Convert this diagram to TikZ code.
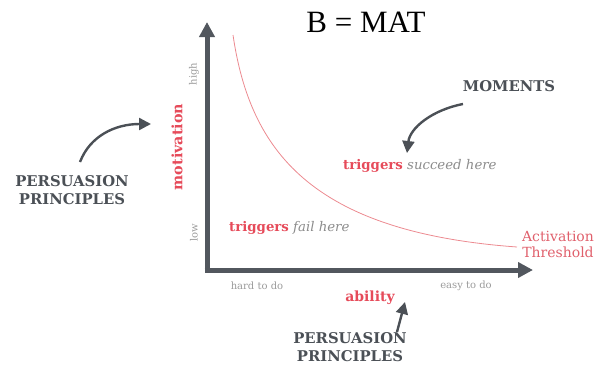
\documentclass[tikz,border=0pt]{standalone}
\usepackage{fontspec}
\setmainfont{DejaVu Serif}
\newfontfamily\titlefont{Liberation Serif}
\usetikzlibrary{arrows.meta}
\definecolor{axisgray}{HTML}{52575E}
\definecolor{darkgray}{HTML}{4B5056}
\definecolor{pinkred}{HTML}{E64B5A}
\definecolor{threshred}{HTML}{E0606C}
\definecolor{curvered}{HTML}{EC8A90}
\definecolor{lightgray}{HTML}{9A9A9A}
\definecolor{midgray}{HTML}{8C8C8C}
\tikzset{
  axisline/.style={draw=axisgray, line width=5pt, -{Triangle[length=15pt,width=15pt]}},
  pointer/.style={draw=darkgray, line width=2.4pt, -{Triangle[length=12pt,width=12pt]}},
  bigcap/.style={text=darkgray, font=\fontsize{14.8}{18}\selectfont\bfseries, align=center, inner sep=0pt},
  ticklabel/.style={text=lightgray, font=\fontsize{10}{12}\selectfont, inner sep=0pt},
  axislabel/.style={text=pinkred, font=\fontsize{14}{16}\selectfont\bfseries, inner sep=0pt},
  zonelabel/.style={font=\fontsize{13.3}{15}\selectfont, inner sep=0pt, anchor=west},
}
\begin{document}
\begin{tikzpicture}[x=1pt,y=-1pt]
\useasboundingbox (0,0) rectangle (605,368);
% axes
\coordinate (corner) at (207,270);
\coordinate (ytop) at (207,22);
\coordinate (xend) at (533,270);
\draw[axisline] (207,272.5) -- (ytop);
\draw[axisline] (204.5,270) -- (xend);
% threshold curve
\coordinate (cstart) at (233,35);
\coordinate (cend) at (517,247);
\draw[curvered, line width=0.8pt] (cstart) .. controls (250,150) and (310,232) .. (cend);
% title
\node (title) at (366,22) {\titlefont\fontsize{31}{34}\selectfont B = MAT};
% axis labels
\node[axislabel, font=\fontsize{14.3}{16}\selectfont\bfseries, rotate=90] (mot) at (177,147) {motivation};
\node[axislabel] (abil) at (370,298) {ability};
\node[ticklabel, rotate=90] (high) at (194,74) {high};
\node[ticklabel, rotate=90] (low) at (194,233) {low};
\node[ticklabel] (hard) at (257,286) {hard to do};
\node[ticklabel] (easy) at (466,286) {easy to do};
% zones
\node[zonelabel] (fail) at (229,228) {\textcolor{pinkred}{\bfseries triggers} \textcolor{midgray}{\itshape fail here}};
\node[zonelabel] (succ) at (343,166) {\textcolor{pinkred}{\bfseries triggers} \textcolor{midgray}{\itshape succeed here}};
\node[text=threshred, font=\fontsize{14}{16}\selectfont, align=center, inner sep=0pt] (thr) at (558,244) {Activation\\Threshold};
% captions
\node[bigcap] (moments) at (509,86) {MOMENTS};
\node[bigcap] (ppleft) at (72,190) {PERSUASION\\PRINCIPLES};
\node[bigcap] (ppbot) at (350,347) {PERSUASION\\PRINCIPLES};
% pointers
\coordinate (la) at (80,162);
\coordinate (lb) at (151,124);
\draw[pointer] (la) .. controls (90,136) and (115,124) .. (lb);
\coordinate (ma) at (463,104);
\coordinate (mb) at (407,153);
\draw[pointer] (ma) .. controls (432,110) and (410,128) .. (mb);
\coordinate (ba) at (397,332);
\coordinate (bb) at (405,302);
\draw[pointer] (ba) -- (bb);
\end{tikzpicture}
\end{document}
